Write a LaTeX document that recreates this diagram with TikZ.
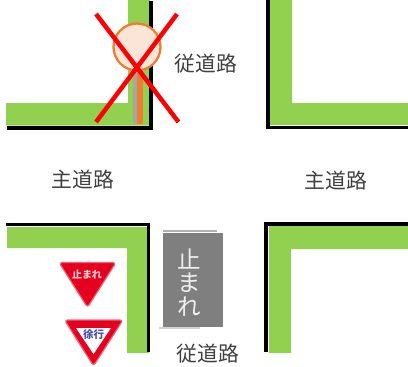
\documentclass[tikz,border=0pt]{standalone}
\usepackage{fontspec}
\setmainfont{Noto Sans CJK JP}
\definecolor{road}{HTML}{92D050}
\definecolor{txt}{HTML}{404040}
\definecolor{signred}{HTML}{E60020}
\definecolor{peach}{HTML}{FBE5D6}
\definecolor{orng}{HTML}{ED7D31}
\definecolor{pana}{HTML}{7F7F7F}
\tikzset{
  curb/.style={line width=3.6pt,draw=black,line cap=butt,line join=miter},
  verge/.style={fill=road,draw=none},
  roadlabel/.style={font=\fontsize{20.8}{21}\selectfont,text=txt,inner sep=0pt},
  paint/.style={font=\fontsize{23.5}{24}\selectfont,text=white!88!pana,inner sep=0pt},
  cross/.style={line width=4.5pt,draw=red}
}
\begin{document}
\begin{tikzpicture}[x=1pt,y=-1pt]
\useasboundingbox (0,0) rectangle (408,367);
% top left
\fill[verge] (128,0) -- (150,0) -- (150,125.5) -- (6,125.5) -- (6,103) -- (128,103) -- cycle;
\draw[curb] (151,1) -- (151,127.8) -- (7,127.8);
% top right
\fill[verge] (270,0) -- (292,0) -- (292,103) -- (408,103) -- (408,125) -- (270,125) -- cycle;
\draw[curb] (268,0) -- (268,127.5) -- (408,127.5);
% bottom left
\fill[verge] (7,227) -- (149,227) -- (149,353) -- (127,353) -- (127,248) -- (7,248) -- cycle;
\draw[curb] (6,224.5) -- (148.5,224.5) -- (148.5,352);
% bottom right
\fill[verge] (269,226) -- (408,226) -- (408,249) -- (291,249) -- (291,353) -- (269,353) -- cycle;
\draw[curb] (408,224) -- (266,224) -- (266,352);
% forbidden sign post
\fill[gray!70] (133,68) rectangle (136.5,124);
\fill[orng] (136.5,68) rectangle (143,124);
\draw[orng,line width=2.3pt,fill=peach] (137,47) circle (23.5);
\draw[cross] (96,14) -- (178.5,122);
\draw[cross] (177,14) -- (96,122);
% road labels
\node[roadlabel] (n1) at (206,64) {従道路};
\node[roadlabel] (w) at (83,180) {主道路};
\node[roadlabel] (e) at (336,181) {主道路};
\node[roadlabel] (s) at (208,354) {従道路};
% road marking
\fill[pana] (163,233) rectangle (223,327);
\fill[gray!60] (163,229.5) rectangle (217,231.5);
\fill[gray!35] (159,327) rectangle (200,329);
\node[paint] (m1) at (189.5,259) {止};
\node[paint] (m2) at (189.5,283) {ま};
\node[paint] (m3) at (189.5,307) {れ};
% stop sign
\draw[signred!60!white,fill=signred,line width=1.2pt,line join=round,rounded corners=3pt] (59,262.5) -- (116,262.5) -- (87.5,307.5) -- cycle;
\node[font=\fontsize{10}{10}\selectfont\bfseries,text=white!80!red,inner sep=0pt] (stop) at (87,275) {止まれ};
% slow sign
\draw[signred!60!white,fill=signred,line width=1.2pt,line join=round,rounded corners=3pt] (64.5,320) -- (123,320) -- (93.5,366) -- cycle;
\fill[white] (76,328) -- (111,328) -- (93.5,354) -- cycle;
\node[font=\fontsize{10.5}{10.5}\selectfont\bfseries,text=blue!40!gray,inner sep=0pt] (slow) at (93.5,334.5) {徐行};
\end{tikzpicture}
\end{document}
